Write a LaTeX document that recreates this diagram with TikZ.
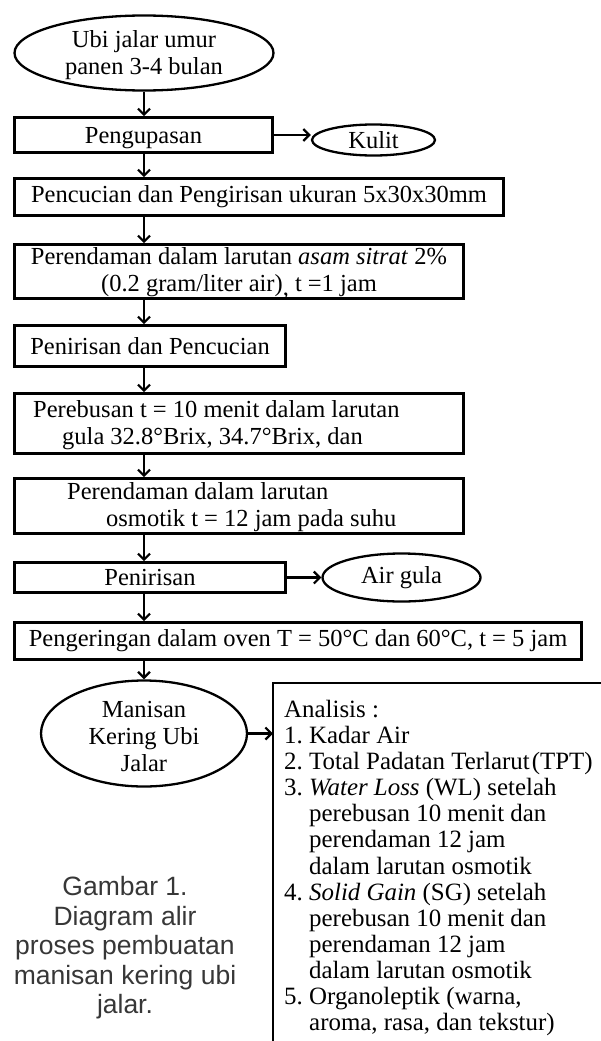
\documentclass[tikz,border=0pt]{standalone}
\usepackage{fontspec}
\setmainfont{Liberation Serif}
\newfontfamily\capfont{Liberation Sans}
\usetikzlibrary{shapes.geometric,arrows.meta}
\definecolor{capgray}{RGB}{55,55,55}
\newcommand{\numb}[1]{\makebox[25pt][l]{#1}}
\newcommand{\contl}{\hspace*{25pt}}
\begin{document}
\begin{tikzpicture}[x=1pt,y=-1pt,
  font=\fontsize{24.5}{27}\selectfont,
  procbox/.style={draw, line width=2.6pt, inner sep=0pt},
  oval/.style={ellipse, draw, line width=2.3pt, inner sep=0pt},
  btext/.style={inner sep=0pt},
  arr/.style={line width=2.2pt, -{Straight Barb[length=6pt,width=12pt]}}]
\useasboundingbox (0,0) rectangle (601,1041);

\node[oval, minimum width=259pt, minimum height=75pt] (u1) at (144,53) {};
\node[btext, align=center] (u1t) at (144,55) {Ubi jalar umur\\panen 3-4 bulan};
\node[procbox, minimum width=258pt, minimum height=35pt, text depth=0pt] (p1) at (143.5,135) {Pengupasan};
\node[oval, minimum width=123pt, minimum height=31pt] (kulit) at (373.5,140) {Kulit};
\node[procbox, minimum width=489pt, minimum height=37pt] (p2) at (259,197) {Pencucian dan Pengirisan ukuran 5x30x30mm};
\node[procbox, minimum width=449pt, minimum height=54pt] (p3) at (239,271.5) {};
\node[btext, align=center] (p3t) at (239,273.5) {Perendaman dalam larutan \textit{asam sitrat} 2\%\\(0.2 gram/liter air)\raisebox{-0.35ex}{,} t =1 jam};
\node[procbox, minimum width=271pt, minimum height=41pt] (p4) at (150,346) {Penirisan dan Pencucian};
\node[procbox, minimum width=449pt, minimum height=60pt] (p5) at (239,423.5) {};
\node[btext, anchor=west, align=flush left] (p5t) at (33,425.5) {Perebusan t = 10 menit dalam larutan\\\hspace*{29pt}gula 32.8°Brix, 34.7°Brix, dan};
\node[procbox, minimum width=449pt, minimum height=55pt] (p6) at (239,506) {};
\node[btext, anchor=west, align=flush left] (p6t) at (33,507) {\hspace*{34pt}Perendaman dalam larutan\\\hspace*{73pt}osmotik t = 12 jam pada suhu};
\node[procbox, minimum width=271pt, minimum height=30pt] (p7) at (150,577.5) {Penirisan};
\node[oval, minimum width=158pt, minimum height=48pt] (ag) at (401.5,577.5) {Air gula};
\node[procbox, minimum width=567pt, minimum height=37pt] (p8) at (298,641) {Pengeringan dalam oven T = 50°C dan 60°C, t = 5 jam};
\node[oval, minimum width=206pt, minimum height=106pt] (m) at (144,733.5) {};
\node[btext, align=center] (mt) at (144,736) {Manisan\\Kering Ubi\\Jalar};

\coordinate (atl) at (273,683);
\coordinate (abl) at (273,1046);
\coordinate (atr) at (606,683);
\draw[line width=2.6pt] (abl) -- (atl) -- (atr);
\node[anchor=north west, inner sep=0pt, align=left, font=\fontsize{24.9}{26.1}\selectfont] (an) at (284,700) {%
Analisis :\\
\numb{1.}Kadar Air\\
\numb{2.}Total Padatan Terlarut\hspace{2pt}(TPT)\\
\numb{3.}\textit{Water Loss} (WL) setelah\\
\contl perebusan 10 menit dan\\
\contl perendaman 12 jam\\
\contl dalam larutan osmotik\\
\numb{4.}\textit{Solid Gain} (SG) setelah\\
\contl perebusan 10 menit dan\\
\contl perendaman 12 jam\\
\contl dalam larutan osmotik\\
\numb{5.}Organoleptik (warna,\\
\contl aroma, rasa, dan tekstur)};

\node[font=\capfont\fontsize{26.5}{29.5}\selectfont, text=capgray, align=center] (cap) at (125,948) {Gambar 1.\\Diagram alir\\proses pembuatan\\manisan kering ubi\\jalar.};

\draw[arr] (u1.south) -- (p1.north -| u1.south);
\draw[arr] (p1.south -| u1) -- (p2.north -| u1);
\draw[arr] (p2.south -| u1) -- (p3.north -| u1);
\draw[arr] (p3.south -| u1) -- (p4.north -| u1);
\draw[arr] (p4.south -| u1) -- (p5.north -| u1);
\draw[arr] (p5.south -| u1) -- (p6.north -| u1);
\draw[arr] (p6.south -| u1) -- (p7.north -| u1);
\draw[arr] (p7.south -| u1) -- (p8.north -| u1);
\draw[arr] (p8.south -| u1) -- (m.north);
\draw[arr] (p1.east) -- (p1.east -| kulit.west);
\draw[arr] (p7.east) -- (ag.west);
\draw[arr] (m.east) -- (m.east -| atl);
\end{tikzpicture}
\end{document}
